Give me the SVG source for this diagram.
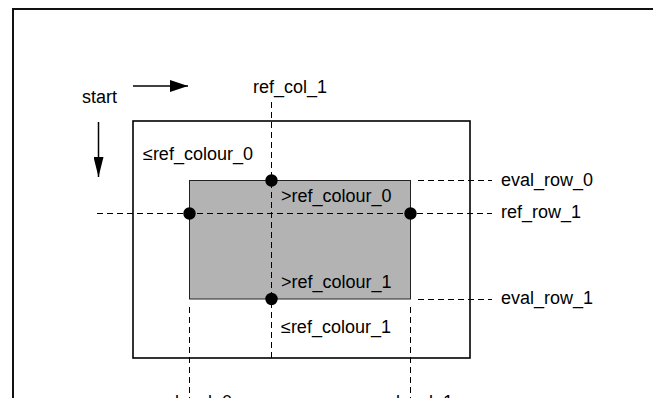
<svg xmlns="http://www.w3.org/2000/svg" width="653" height="398" viewBox="0 0 653 398">
<defs>
<style>
text{font-family:"Liberation Sans",Arial,sans-serif;font-size:18px;fill:#000}
.dash{stroke:#000;stroke-width:1;stroke-dasharray:6,4;fill:none}
.dot{fill:#000}
</style>
<marker id="ah" markerWidth="18" markerHeight="12" refX="18" refY="6" orient="auto" markerUnits="userSpaceOnUse">
<path d="M0,0 L18,6 L0,12 Z" fill="#000"/>
</marker>
<marker id="ahv" markerWidth="20" markerHeight="10" refX="20" refY="5" orient="auto" markerUnits="userSpaceOnUse">
<path d="M0,0 L20,5 L0,10 Z" fill="#000"/>
</marker>
</defs>
<rect width="653" height="398" fill="#fff"/>
<path d="M13,398 V9 H653" fill="none" stroke="#111" stroke-width="2"/>
<g id="outer-box"><rect x="133" y="121" width="337" height="237" fill="#fff" stroke="#000" stroke-width="1.6"/></g>
<g id="inner-box"><rect x="189.5" y="180.5" width="221" height="118.5" fill="#b3b3b3" stroke="#222" stroke-width="1"/></g>
<g id="connectors">
<line class="dash" x1="271.5" y1="102" x2="271.5" y2="362"/>
<line class="dash" x1="97" y1="213.5" x2="492" y2="213.5"/>
<line class="dash" x1="418" y1="180.5" x2="492" y2="180.5"/>
<line class="dash" x1="418" y1="299.5" x2="492" y2="299.5"/>
<line class="dash" x1="189.5" y1="307" x2="189.5" y2="398"/>
<line class="dash" x1="410.5" y1="307" x2="410.5" y2="398"/>
<line x1="133" y1="86" x2="188" y2="86" stroke="#000" stroke-width="1.5" marker-end="url(#ah)"/>
<line x1="98.5" y1="122" x2="98.5" y2="177" stroke="#000" stroke-width="1.5" marker-end="url(#ahv)"/>
</g>
<g id="dots">
<circle class="dot" cx="271.5" cy="180.5" r="6.2"/>
<circle class="dot" cx="189.5" cy="213.5" r="6.2"/>
<circle class="dot" cx="410.5" cy="213.5" r="6.2"/>
<circle class="dot" cx="271.5" cy="299" r="6.2"/>
</g>
<g id="labels">
<text x="82" y="103">start</text>
<text x="253" y="93">ref_col_1</text>
<text x="143" y="160">≤ref_colour_0</text>
<text x="281" y="202">&gt;ref_colour_0</text>
<text x="281" y="288">&gt;ref_colour_1</text>
<text x="281" y="333">≤ref_colour_1</text>
<text x="501" y="186">eval_row_0</text>
<text x="501" y="218">ref_row_1</text>
<text x="501" y="304">eval_row_1</text>
<text x="189" y="408" text-anchor="middle">eval_col_0</text>
<text x="410" y="408" text-anchor="middle">eval_col_1</text>
</g>
</svg>
